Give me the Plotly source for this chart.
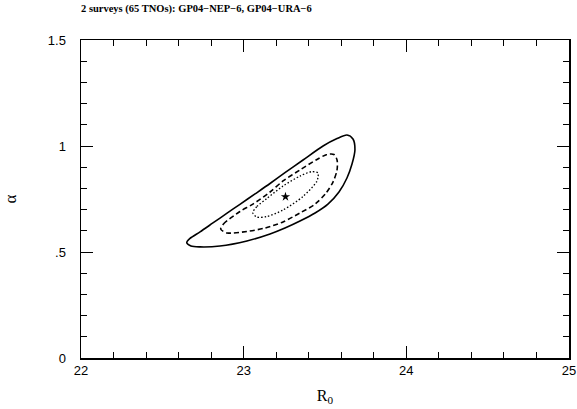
import plotly.graph_objects as go

# Contour levels (R0, alpha)
solid_r0 = [22.650, 22.670, 22.732, 22.811, 22.898, 22.977, 23.070, 23.162, 23.254, 23.365,
            23.488, 23.574, 23.635, 23.672, 23.684, 23.666, 23.635, 23.586, 23.518, 23.439,
            23.346, 23.254, 23.162, 23.020, 22.854, 22.732, 22.676, 22.650]
solid_alpha = [0.544, 0.564, 0.595, 0.637, 0.683, 0.725, 0.774, 0.823, 0.874, 0.934,
               1.000, 1.035, 1.052, 1.033, 0.981, 0.915, 0.849, 0.783, 0.726, 0.684,
               0.646, 0.613, 0.585, 0.552, 0.528, 0.524, 0.528, 0.544]

dashed_r0 = [22.859, 22.876, 22.977, 23.057, 23.162, 23.242, 23.346, 23.445, 23.512, 23.555,
             23.574, 23.574, 23.549, 23.506, 23.439, 23.346, 23.242, 23.131, 23.020, 22.898, 22.859]
dashed_alpha = [0.608, 0.632, 0.691, 0.726, 0.783, 0.835, 0.887, 0.934, 0.960, 0.960,
                0.934, 0.887, 0.830, 0.778, 0.726, 0.684, 0.642, 0.613, 0.597, 0.590, 0.608]

dotted_r0 = [23.056, 23.082, 23.142, 23.242, 23.346, 23.418, 23.457, 23.457, 23.449, 23.365,
             23.242, 23.142, 23.080, 23.056]
dotted_alpha = [0.685, 0.715, 0.752, 0.811, 0.858, 0.879, 0.873, 0.854, 0.832, 0.762,
                0.698, 0.667, 0.665, 0.685]

best_r0 = [23.257]
best_alpha = [0.761]

x_ticks = [22, 23, 24, 25]
x_ticklabels = ["22", "23", "24", "25"]
y_ticks = [0, 0.5, 1, 1.5]
y_ticklabels = ["0", ".5", "1", "1.5"]

title_text = "2 surveys (65 TNOs): GP04\u2212NEP\u22126, GP04\u2212URA\u22126"

fig = go.Figure()
fig.add_trace(go.Scatter(x=solid_r0, y=solid_alpha, mode="lines",
                         line=dict(color="black", width=1.6, shape="spline", smoothing=0.8),
                         showlegend=False, hoverinfo="skip"))
fig.add_trace(go.Scatter(x=dashed_r0, y=dashed_alpha, mode="lines",
                         line=dict(color="black", width=1.6, dash="5px,3px", shape="spline", smoothing=0.8),
                         showlegend=False, hoverinfo="skip"))
fig.add_trace(go.Scatter(x=dotted_r0, y=dotted_alpha, mode="lines",
                         line=dict(color="black", width=1.3, dash="1.5px,2px", shape="spline", smoothing=0.8),
                         showlegend=False, hoverinfo="skip"))
fig.add_trace(go.Scatter(x=best_r0, y=best_alpha, mode="markers",
                         marker=dict(symbol="star", size=7, color="black"),
                         showlegend=False, hoverinfo="skip"))

axis_common = dict(
    showgrid=False, zeroline=False, showline=True, linecolor="black", linewidth=1.5,
    ticks="inside", ticklen=12, tickwidth=1, tickcolor="black", mirror="ticks",
    automargin=False,
    tickfont=dict(family="Liberation Sans, Arial, sans-serif", size=13, color="black"),
)

fig.update_layout(
    width=577, height=409,
    margin=dict(l=81, r=8, t=40, b=51),
    paper_bgcolor="white", plot_bgcolor="white",
    title=dict(text=title_text, x=81/577, xanchor="left", y=1 - 8/409, yanchor="middle",
               font=dict(family="Liberation Serif, Times New Roman, serif", size=10.5, color="black",
                         weight="bold")),
    xaxis=dict(range=[22, 25], tickvals=x_ticks, ticktext=x_ticklabels,
               minor=dict(dtick=0.2, ticklen=6, ticks="inside", tickcolor="black", tickwidth=1),
               title=dict(text="R<sub>0</sub>", standoff=12,
                          font=dict(family="Liberation Serif, Times New Roman, serif", size=16, color="black")),
               **axis_common),
    yaxis=dict(range=[0, 1.5], tickvals=y_ticks, ticktext=y_ticklabels,
               minor=dict(dtick=0.1, ticklen=6, ticks="inside", tickcolor="black", tickwidth=1),
               ticklabelstandoff=11,
               title=dict(text="\u03b1", standoff=27,
                          font=dict(family="Liberation Serif, Times New Roman, serif", size=17, color="black")),
               **axis_common),
)

fig.write_html("out.html", config={"displayModeBar": False, "staticPlot": True},
               post_script="document.body.style.margin='0';document.body.style.overflow='hidden';")
